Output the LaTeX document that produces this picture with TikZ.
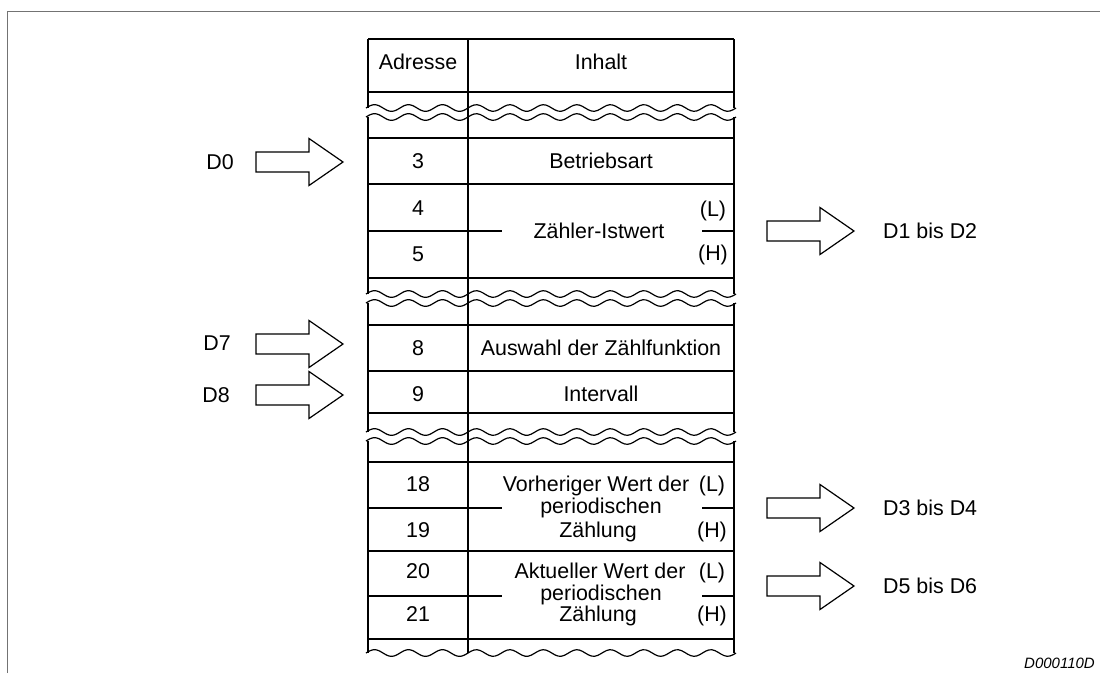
\documentclass[tikz,border=0pt]{standalone}
\usepackage{fontspec}
\setmainfont{Liberation Sans}
\begin{document}
\begin{tikzpicture}[x=1pt,y=-1pt,
  grid/.style={line width=1.2pt, line cap=butt},
  outer/.style={line width=2.6pt},
  frameline/.style={line width=1.6pt, draw=black!55},
  txt/.style={font=\fontsize{21.4}{25}\selectfont, inner sep=0pt, anchor=base},
  lbl/.style={font=\fontsize{21.4}{25}\selectfont, inner sep=0pt, anchor=base},
  tag/.style={font=\itshape\fontsize{15}{18}\selectfont, inner sep=0pt, anchor=base east},
  blockarrow/.pic={
    \draw[line width=1.2pt, line join=miter]
      (-87,-10) -- (-34,-10) -- (-34,-23.5) -- (0,0) -- (-34,23.5)
      -- (-34,10) -- (-87,10) -- cycle;
  }]
\useasboundingbox (0,0) rectangle (1100,673);

% outer frame (top and left edge)
\draw[frameline] (7.5,673) -- (7.5,11.5) -- (1100,11.5);

% wavy break line: from x0 to x1 at height y with n periods
\newcommand\breakwave[4]{%
  \draw[grid] plot[domain=#1:#2, samples=90, smooth]
    (\x, {#3 - 3.3*sin((\x-#1)/(#2-#1)*#4*360)});}
\newcommand\breakrow[1]{%
  \breakwave{366}{468}{#1}{3}\breakwave{468}{736}{#1}{8}}

% breaks in the memory listing
\breakrow{108}\breakrow{117}
\breakrow{294}\breakrow{303}
\breakrow{432}\breakrow{441}
\breakrow{653}

% outer borders, interrupted at the double breaks
\foreach \xx in {368,734}{
  \draw[outer] (\xx,39) -- (\xx,108);
  \draw[outer] (\xx,117) -- (\xx,294);
  \draw[outer] (\xx,303) -- (\xx,432);
  \draw[outer] (\xx,441) -- (\xx,653);
}
% column divider
\draw[grid] (468,39) -- (468,653);

% row rules
\foreach \yy in {39,92,138,184,278,325,371,413,462,551,639}{
  \draw[grid] (368,\yy) -- (734,\yy);
}
% split rows of the double-word entries
\foreach \yy in {231,508,596}{
  \draw[grid] (368,\yy) -- (502,\yy);
  \draw[grid] (702,\yy) -- (734,\yy);
}

% header
\node[txt] (hAdr) at (418,69) {Adresse};
\node[txt] (hInh) at (601,69) {Inhalt};

% entries
\node[txt] (a3) at (418,168) {3};
\node[txt] (c3) at (601,168) {Betriebsart};

\node[txt] (a4) at (418,215) {4};
\node[txt] (a5) at (418,261) {5};
\node[txt] (c4) at (599,238) {Zähler-Istwert};
\node[txt] (l4) at (713,216) {(L)};
\node[txt] (h4) at (713,260) {(H)};

\node[txt] (a8) at (418,355) {8};
\node[txt] (c8) at (601,355) {Auswahl der Zählfunktion};
\node[txt] (a9) at (418,401) {9};
\node[txt] (c9) at (601,401) {Intervall};

\node[txt] (a18) at (418,491) {18};
\node[txt] (a19) at (418,537) {19};
\node[txt] (c18a) at (596,491) {Vorheriger Wert der};
\node[txt] (c18b) at (601,513) {periodischen};
\node[txt] (c18c) at (598,537) {Zählung};
\node[txt] (l18) at (712,491) {(L)};
\node[txt] (h18) at (712,537) {(H)};

\node[txt] (a20) at (418,578) {20};
\node[txt] (a21) at (418,621) {21};
\node[txt] (c20a) at (600,578) {Aktueller Wert der};
\node[txt] (c20b) at (601,600) {periodischen};
\node[txt] (c20c) at (598,621) {Zählung};
\node[txt] (l20) at (712,578) {(L)};
\node[txt] (h20) at (712,621) {(H)};

% device registers written to the buffer memory
\node[lbl] (d0) at (220,169) {D0};
\pic (arrD0) at (343,162) {blockarrow};
\node[lbl] (d7) at (217,350) {D7};
\pic (arrD7) at (343,344) {blockarrow};
\node[lbl] (d8) at (216,402) {D8};
\pic (arrD8) at (343,395) {blockarrow};

% device registers read from the buffer memory
\pic (arrD1) at (854,231) {blockarrow};
\node[lbl, anchor=base west] (d1) at (883,238) {D1 bis D2};
\pic (arrD3) at (854,508) {blockarrow};
\node[lbl, anchor=base west] (d3) at (883,515) {D3 bis D4};
\pic (arrD5) at (854,586) {blockarrow};
\node[lbl, anchor=base west] (d5) at (883,593) {D5 bis D6};

% drawing number
\node[tag] (code) at (1095,668) {D000110D};
\end{tikzpicture}
\end{document}
